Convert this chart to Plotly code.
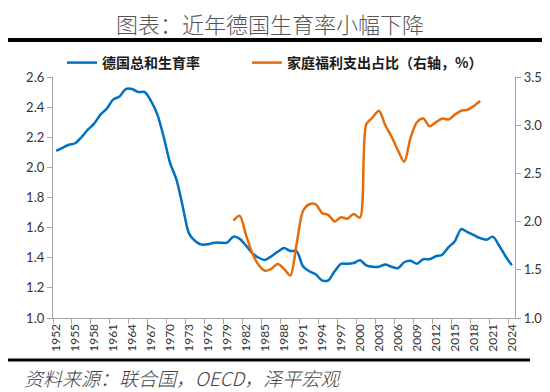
import plotly.graph_objects as go

years_tfr = list(range(1952, 2025))
tfr = [2.11, 2.13, 2.15, 2.16, 2.20, 2.25, 2.29, 2.35, 2.39, 2.45,
       2.47, 2.52, 2.52, 2.50, 2.50, 2.44, 2.35, 2.20, 2.03, 1.92,
       1.74, 1.56, 1.51, 1.487, 1.49, 1.50, 1.50, 1.50, 1.54, 1.525,
       1.48, 1.43, 1.40, 1.385, 1.41, 1.44, 1.465, 1.445, 1.443, 1.343,
       1.31, 1.29, 1.25, 1.25, 1.31, 1.36, 1.36, 1.365, 1.383, 1.35,
       1.34, 1.34, 1.355, 1.34, 1.33, 1.37, 1.38, 1.36, 1.39, 1.39,
       1.41, 1.42, 1.47, 1.51, 1.59, 1.57, 1.55, 1.53, 1.52, 1.54,
       1.48, 1.41, 1.35]

years_fam = list(range(1980, 2020))
fam = [2.01, 2.06, 1.86, 1.67, 1.55, 1.49, 1.51, 1.56, 1.51, 1.44,
       1.77, 2.11, 2.18, 2.18, 2.09, 2.07, 2.00, 2.045, 2.03, 2.08,
       2.04, 3.01, 3.08, 3.15, 3.00, 2.88, 2.74, 2.62, 2.87, 3.03,
       3.07, 2.99, 3.03, 3.07, 3.06, 3.11, 3.15, 3.16, 3.20, 3.25]

tick_years = list(range(1952, 2025, 3))
left_ticks = [1.0, 1.2, 1.4, 1.6, 1.8, 2.0, 2.2, 2.4, 2.6]
right_ticks = [1.0, 1.5, 2.0, 2.5, 3.0, 3.5]

name_tfr = "德国总和生育率"
name_fam = "家庭福利支出占比（右轴，%）"
title_text = "图表：近年德国生育率小幅下降"
source_text = "资料来源：联合国，OECD，泽平宏观"

BLUE = "#0070C0"
ORANGE = "#E46C0A"
AX = "#A6A6A6"
CJK = "Noto Sans CJK SC"
NUM = "Lato, Noto Sans, sans-serif"

fig = go.Figure()
fig.add_trace(go.Scatter(x=years_tfr, y=tfr, name=name_tfr, mode="lines", legend="legend",
                         line=dict(color=BLUE, width=2.5, shape="spline", smoothing=0.8)))
fig.add_trace(go.Scatter(x=years_fam, y=fam, name=name_fam, mode="lines", yaxis="y2",
                         legend="legend2",
                         line=dict(color=ORANGE, width=2.5, shape="spline", smoothing=0.8)))

W, H = 550, 392
L, R, T, B = 45, 43, 69, 82
pw, ph = W - L - R, H - T - B

def px_x(x):
    return (x - L) / pw

def px_y(y):
    return (H - B - y) / ph

leg_font = dict(family=CJK, size=14, color="#1a1a1a", weight="bold")

fig.update_layout(
    width=W, height=H,
    margin=dict(l=L, r=R, t=T, b=B),
    paper_bgcolor="white", plot_bgcolor="white",
    showlegend=True,
    legend=dict(orientation="h", x=px_x(54), xanchor="left", y=px_y(55), yanchor="middle",
                font=leg_font, bgcolor="rgba(0,0,0,0)", itemwidth=30),
    legend2=dict(orientation="h", x=px_x(239), xanchor="left", y=px_y(55), yanchor="middle",
                 font=leg_font, bgcolor="rgba(0,0,0,0)", itemwidth=30),
    title=dict(text=title_text, x=262 / W, xanchor="center", xref="container",
               y=1 - 17 / H, yanchor="middle", yref="container",
               font=dict(family=CJK, size=22, color="#555555", weight=300)),
    xaxis=dict(range=[1951.5, 2024.5], tickmode="array", tickvals=tick_years,
               ticktext=[str(y) for y in tick_years], tickangle=-90,
               ticks="", showgrid=False, zeroline=False,
               showline=True, linecolor=AX, linewidth=1.3,
               tickfont=dict(family=NUM, size=12, color="#333333"),
               minor=dict(tickmode="array", tickvals=[1951.5 + 3 * k for k in range(25)],
                          ticks="outside", ticklen=5, tickcolor=AX, tickwidth=1, showgrid=False)),
    yaxis=dict(range=[1.0, 2.6], tickmode="array", tickvals=left_ticks, tickformat=".1f",
               ticks="outside", ticklen=5, tickcolor=AX, showgrid=False, zeroline=False,
               showline=True, linecolor=AX, linewidth=1.3,
               tickfont=dict(family=NUM, size=13, color="#333333")),
    yaxis2=dict(range=[1.0, 3.5], tickmode="array", tickvals=right_ticks, tickformat=".1f",
                overlaying="y", side="right",
                ticks="outside", ticklen=5, tickcolor=AX, showgrid=False, zeroline=False,
                showline=True, linecolor=AX, linewidth=1.3,
                tickfont=dict(family=NUM, size=13, color="#333333")),
)

fig.add_shape(type="line", xref="paper", yref="paper",
              x0=px_x(0), x1=px_x(550), y0=px_y(32), y1=px_y(32),
              line=dict(color="#000000", width=4))
fig.add_shape(type="line", xref="paper", yref="paper",
              x0=px_x(0), x1=px_x(522), y0=px_y(352), y1=px_y(352),
              line=dict(color="#000000", width=3))
fig.add_annotation(text=source_text, xref="paper", yref="paper",
                   x=px_x(14), y=px_y(369), xanchor="left", yanchor="middle",
                   showarrow=False,
                   font=dict(family=CJK, size=19, color="#404040", style="italic", weight=300))

fig.write_html("out.html")
